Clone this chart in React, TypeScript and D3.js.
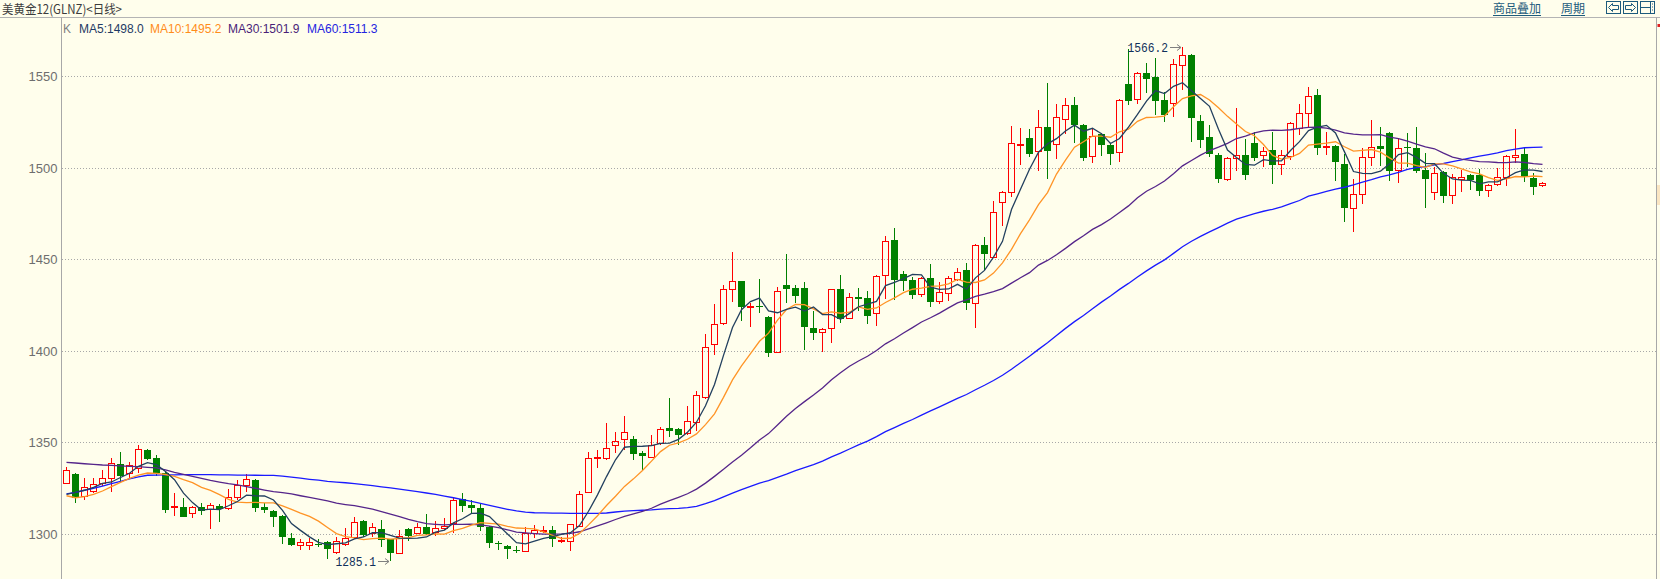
import React from 'react';
import * as d3 from 'd3';

const WIDTH = 1660;
const HEIGHT = 579;

const title = '美黄金12(GLNZ)<日线>';
const links = ['商品叠加', '周期'];
const yTicks = [1300, 1350, 1400, 1450, 1500, 1550];

const opens = [
  1327.5, 1332.6, 1320.5, 1323.1, 1327.5, 1330.6, 1338.1, 1333.0, 1335.7, 1345.7,
  1341.3, 1333.0, 1314.5, 1314.4, 1311.1, 1314.4, 1313.3, 1315.1, 1313.8, 1320.2,
  1326.4, 1329.3, 1314.4, 1312.4, 1309.6, 1297.8, 1293.8, 1293.8, 1294.3, 1295.2,
  1289.8, 1294.1, 1298.0, 1307.1, 1300.5, 1302.3, 1296.9, 1289.6, 1302.3, 1300.5,
  1303.4, 1301.1, 1302.9, 1306.0, 1318.7, 1315.5, 1313.8, 1303.8, 1294.9, 1293.2,
  1290.9, 1290.7, 1300.5, 1301.7, 1301.9, 1296.2, 1296.1, 1304.3, 1322.9, 1341.3,
  1341.1, 1348.4, 1351.5, 1351.5, 1344.0, 1342.1, 1349.4, 1357.6, 1357.0, 1354.8,
  1361.2, 1374.9, 1403.5, 1415.0, 1433.6, 1437.9, 1423.9, 1424.4, 1418.3, 1399.5,
  1435.7, 1434.1, 1434.1, 1412.4, 1410.1, 1412.2, 1433.6, 1418.1, 1429.2, 1428.6,
  1420.4, 1441.4, 1460.5, 1441.9, 1438.7, 1431.0, 1439.6, 1427.4, 1431.7, 1439.0,
  1444.1, 1425.9, 1457.8, 1451.4, 1481.1, 1486.6, 1512.6, 1516.1, 1509.4, 1522.2,
  1512.8, 1526.5, 1534.2, 1523.4, 1506.5, 1518.5, 1512.5, 1508.8, 1545.8, 1537.5,
  1551.7, 1549.5, 1537.1, 1535.3, 1556.2, 1561.7, 1525.8, 1516.7, 1507.0, 1493.7,
  1505.2, 1506.8, 1513.4, 1506.8, 1509.7, 1502.1, 1506.5, 1521.6, 1529.8, 1539.8,
  1511.2, 1511.9, 1502.1, 1477.8, 1485.5, 1505.7, 1511.9, 1518.9, 1498.8, 1511.2,
  1510.7, 1498.8, 1486.9, 1497.9, 1485.1, 1494.1, 1496.1, 1496.1, 1487.9, 1491.2,
  1495.2, 1506.1, 1507.6, 1494.3, 1490.4,
];

const highs = [
  1336.6, 1333.0, 1330.6, 1330.6, 1334.8, 1341.2, 1344.8, 1339.2, 1348.5, 1346.3,
  1343.0, 1333.5, 1322.0, 1319.3, 1315.0, 1316.9, 1316.9, 1316.0, 1324.2, 1329.3,
  1332.4, 1329.6, 1316.9, 1313.0, 1310.0, 1300.2, 1296.9, 1297.5, 1296.9, 1296.0,
  1298.3, 1302.9, 1308.9, 1307.5, 1306.0, 1307.4, 1297.3, 1302.0, 1303.0, 1306.0,
  1310.7, 1307.1, 1308.4, 1319.8, 1322.2, 1318.6, 1316.2, 1304.2, 1295.8, 1293.5,
  1293.2, 1303.8, 1304.5, 1304.1, 1304.1, 1298.3, 1305.5, 1323.5, 1344.5, 1345.7,
  1360.4, 1355.4, 1364.4, 1353.4, 1345.0, 1353.9, 1358.5, 1374.3, 1357.5, 1369.9,
  1378.0, 1409.1, 1425.6, 1435.9, 1454.0, 1438.3, 1426.3, 1439.0, 1419.0, 1435.0,
  1452.9, 1435.9, 1437.8, 1421.5, 1412.5, 1434.0, 1441.4, 1431.7, 1434.1, 1432.8,
  1441.5, 1462.7, 1466.9, 1443.8, 1440.5, 1440.5, 1447.4, 1437.8, 1440.9, 1445.4,
  1448.1, 1458.5, 1462.4, 1481.9, 1487.3, 1522.9, 1521.6, 1521.1, 1531.6, 1546.6,
  1534.9, 1538.0, 1538.6, 1524.0, 1521.6, 1519.0, 1513.0, 1537.5, 1564.8, 1552.5,
  1557.1, 1559.9, 1541.6, 1559.3, 1566.2, 1562.0, 1528.9, 1523.4, 1508.0, 1506.0,
  1532.5, 1516.0, 1519.8, 1511.6, 1519.8, 1509.7, 1525.0, 1534.9, 1544.0, 1542.9,
  1519.8, 1512.3, 1507.6, 1493.7, 1510.7, 1526.2, 1522.1, 1519.5, 1516.1, 1518.9,
  1522.1, 1508.0, 1500.3, 1498.3, 1496.6, 1498.8, 1496.5, 1499.2, 1491.0, 1499.7,
  1507.0, 1521.0, 1511.6, 1497.0, 1492.0,
];

const lows = [
  1327.0, 1316.9, 1318.5, 1322.0, 1326.0, 1322.9, 1327.5, 1330.0, 1333.0, 1340.0,
  1331.5, 1311.4, 1309.6, 1309.0, 1308.3, 1310.2, 1302.7, 1306.5, 1313.0, 1318.4,
  1322.9, 1312.0, 1311.4, 1303.8, 1294.1, 1293.0, 1291.0, 1291.0, 1292.5, 1286.0,
  1289.0, 1293.0, 1297.0, 1298.0, 1298.3, 1292.9, 1285.1, 1289.0, 1296.1, 1300.0,
  1299.0, 1298.7, 1302.0, 1300.5, 1312.0, 1311.0, 1301.6, 1291.9, 1291.0, 1286.3,
  1289.2, 1290.2, 1297.4, 1300.2, 1292.8, 1295.0, 1290.7, 1303.8, 1322.4, 1336.0,
  1340.5, 1343.9, 1345.9, 1340.2, 1334.8, 1341.5, 1348.5, 1353.0, 1348.2, 1353.9,
  1356.3, 1373.4, 1397.8, 1414.0, 1426.8, 1416.4, 1412.8, 1420.4, 1396.4, 1398.5,
  1426.3, 1425.9, 1400.4, 1405.9, 1399.5, 1404.4, 1415.3, 1417.2, 1421.9, 1414.6,
  1413.5, 1428.1, 1427.7, 1432.8, 1428.1, 1429.5, 1424.1, 1425.6, 1427.4, 1438.0,
  1422.3, 1412.2, 1444.1, 1450.5, 1468.4, 1484.2, 1501.5, 1506.1, 1498.4, 1493.9,
  1504.6, 1518.5, 1513.8, 1503.9, 1502.8, 1506.5, 1501.5, 1503.4, 1534.4, 1534.9,
  1541.1, 1528.9, 1525.2, 1528.0, 1542.6, 1514.3, 1510.7, 1505.7, 1491.9, 1493.0,
  1498.0, 1493.3, 1503.6, 1500.6, 1491.2, 1496.1, 1504.3, 1517.9, 1522.1, 1507.0,
  1507.0, 1493.0, 1470.6, 1465.1, 1480.2, 1501.0, 1501.0, 1493.0, 1491.9, 1500.3,
  1497.0, 1477.9, 1482.4, 1480.9, 1480.2, 1487.0, 1487.9, 1484.6, 1483.9, 1490.1,
  1490.1, 1502.8, 1492.4, 1485.1, 1489.3,
];

const closes = [
  1334.8, 1319.3, 1325.7, 1327.1, 1330.6, 1338.4, 1331.5, 1337.3, 1346.1, 1340.6,
  1333.0, 1312.9, 1314.9, 1309.3, 1314.7, 1312.5, 1315.5, 1313.6, 1319.8, 1326.4,
  1329.7, 1314.0, 1312.9, 1308.9, 1298.0, 1293.8, 1295.2, 1295.2, 1294.0, 1291.8,
  1296.1, 1297.4, 1306.2, 1299.2, 1303.4, 1296.5, 1289.6, 1298.9, 1298.7, 1303.8,
  1299.8, 1302.9, 1304.3, 1318.4, 1315.3, 1314.2, 1303.8, 1294.7, 1294.5, 1291.8,
  1290.6, 1300.5, 1301.9, 1302.0, 1296.9, 1296.6, 1305.0, 1321.4, 1341.1, 1341.8,
  1346.6, 1350.9, 1355.7, 1343.3, 1342.3, 1348.2, 1357.0, 1356.3, 1353.9, 1361.8,
  1375.6, 1402.0, 1414.4, 1433.6, 1437.9, 1424.1, 1424.3, 1424.0, 1398.6, 1432.8,
  1433.6, 1430.1, 1413.2, 1409.9, 1411.9, 1433.6, 1417.2, 1429.5, 1428.1, 1419.2,
  1440.9, 1460.2, 1438.7, 1438.3, 1430.5, 1439.6, 1426.8, 1432.3, 1439.6, 1443.2,
  1426.3, 1457.8, 1452.7, 1475.7, 1486.6, 1513.4, 1513.0, 1507.6, 1522.2, 1509.4,
  1527.6, 1534.2, 1523.4, 1505.6, 1517.4, 1512.5, 1507.6, 1537.1, 1536.7, 1552.0,
  1548.8, 1536.7, 1528.9, 1556.6, 1561.7, 1527.1, 1515.2, 1507.6, 1493.7, 1505.2,
  1506.8, 1495.9, 1505.6, 1509.0, 1501.7, 1506.8, 1524.3, 1529.8, 1539.3, 1511.0,
  1511.8, 1503.4, 1478.2, 1485.5, 1505.7, 1511.2, 1510.1, 1498.4, 1511.0, 1510.7,
  1498.4, 1493.7, 1497.4, 1484.8, 1495.2, 1495.2, 1493.3, 1487.5, 1490.4, 1495.2,
  1506.4, 1507.2, 1495.2, 1489.7, 1491.5,
];

// Moving-average values for the first candles, whose
// windows reach back before the visible data.
const ma5Head = [1321.5, 1322.6, 1323.7, 1325.3];
const ma10Head = [1320.7, 1319.6, 1320.2, 1321.5, 1323.3, 1325.7, 1328.0, 1330.2, 1332.0];
const ma30Head = [
  1339.0, 1338.6, 1338.2, 1337.9, 1337.5, 1337.3, 1337.0, 1336.8, 1336.6, 1336.2,
  1335.9, 1334.8, 1333.5, 1332.4, 1331.3, 1330.2, 1329.1, 1328.2, 1327.3, 1326.6,
  1325.7, 1324.8, 1323.8, 1322.9, 1322.4, 1321.7, 1320.7, 1319.8, 1318.9,
];
const ma60Head = [
  1321.7, 1322.6, 1323.7, 1324.8, 1326.0, 1327.3, 1328.6, 1329.9, 1331.0, 1331.9,
  1332.0, 1332.1, 1332.1, 1332.2, 1332.2, 1332.2, 1332.2, 1332.1, 1332.1, 1332.0,
  1332.0, 1331.9, 1331.8, 1331.8, 1331.4, 1330.9, 1330.3, 1329.7, 1329.2, 1328.6,
  1328.2, 1327.8, 1327.3, 1326.8, 1326.2, 1325.6, 1325.0, 1324.3, 1323.6, 1322.9,
  1322.2, 1321.4, 1320.5, 1319.6, 1318.6, 1317.6, 1316.5, 1315.4, 1314.3, 1313.3,
  1312.4, 1311.7, 1311.4, 1311.3, 1311.2, 1311.2, 1311.1, 1311.1, 1311.1,
];

const maPeriods = [5, 10, 30, 60];
const maHeads = [ma5Head, ma10Head, ma30Head, ma60Head];
const maLineColors = ['#23405f', '#ff9426', '#55258a', '#1a1aff'];
const maTextColors = ['#1e3a64', '#ff8c1a', '#4a1f78', '#2424e0'];

const BG = '#fffeec';
const UP = '#ff0000';
const DOWN = '#008000';
const LINK = '#1d5b7c';

function movingAverage(values: number[], n: number, head: number[]) {
  return values.map((_, i) =>
    i < n - 1 ? head[i] : (d3.mean(values.slice(i - n + 1, i + 1)) as number)
  );
}

export default function App() {
  const n = closes.length;
  const x = d3.scaleBand<number>().domain(d3.range(n)).range([62, 62 + 9 * n]);
  const y = d3.scaleLinear().domain([1300, 1550]).range([533.6, 76.4]);
  const cx = (i: number) => Math.floor((x(i) as number) + x.bandwidth() / 2) + 0.5;

  const mas = maPeriods.map((p, k) => movingAverage(closes, p, maHeads[k]));
  const line = d3
    .line<number>()
    .x((_, i) => cx(i))
    .y((v) => y(v));

  const maxIdx = d3.maxIndex(highs);
  const minIdx = d3.minIndex(lows);

  const legendX = [79, 150, 228, 307];

  const candles = closes.map((c, i) => {
    const o = opens[i];
    const h = highs[i];
    const l = lows[i];
    const xc = cx(i);
    const up = c >= o;
    const top = Math.round(y(Math.max(o, c)));
    const bot = Math.round(y(Math.min(o, c)));
    const yh = Math.round(y(h));
    const yl = Math.round(y(l));
    if (up) {
      const hgt = Math.max(bot - top, 1);
      return (
        <g key={i}>
          {yh < top && <line x1={xc} x2={xc} y1={yh} y2={top} stroke={UP} />}
          {yl > top + hgt && <line x1={xc} x2={xc} y1={top + hgt} y2={yl} stroke={UP} />}
          <rect x={xc - 3} y={top + 0.5} width={6} height={hgt} fill="none" stroke={UP} />
        </g>
      );
    }
    return (
      <g key={i}>
        <line x1={xc} x2={xc} y1={yh} y2={yl} stroke={DOWN} />
        <rect x={xc - 3.5} y={top} width={7} height={Math.max(bot - top, 1)} fill={DOWN} />
      </g>
    );
  });

  const annot = (idx: number, value: number, label: string) => {
    const xc = cx(idx);
    const yy = Math.round(y(value)) + 0.5;
    return (
      <g key={label}>
        <text
          x={xc - 14.5}
          y={yy + 4.5}
          textAnchor="end"
          fontFamily="'Liberation Mono', 'DejaVu Sans Mono', monospace"
          fontSize={13.5}
          fill="#10305a"
          textLength={40.5}
          lengthAdjust="spacingAndGlyphs"
        >
          {label}
        </text>
        <line x1={xc - 12.5} x2={xc - 1.5} y1={yy} y2={yy} stroke="#808080" />
        <path d={`M${xc - 5.5},${yy - 3}L${xc - 1.5},${yy}L${xc - 5.5},${yy + 3}`} fill="none" stroke="#808080" />
      </g>
    );
  };

  return (
    <svg
      width={WIDTH}
      height={HEIGHT}
      style={{ position: 'absolute', left: 0, top: 0, display: 'block', background: BG }}
    >
      <rect x={0} y={0} width={WIDTH} height={HEIGHT} fill={BG} />
      {/* header */}
      <text
        x={2}
        y={14}
        fontFamily="'Noto Sans CJK SC', sans-serif"
        fontSize={12.5}
        fill="#3c3c3c"
        textLength={120}
        lengthAdjust="spacingAndGlyphs"
      >
        {title}
      </text>
      <text x={1493} y={13} fontFamily="'Noto Sans CJK SC', sans-serif" fontSize={12} fill={LINK}>
        {links[0]}
      </text>
      <line x1={1493} x2={1541} y1={15.5} y2={15.5} stroke={LINK} />
      <text x={1561} y={13} fontFamily="'Noto Sans CJK SC', sans-serif" fontSize={12} fill={LINK}>
        {links[1]}
      </text>
      <line x1={1561} x2={1585} y1={15.5} y2={15.5} stroke={LINK} />
      <g stroke={LINK} fill="none">
        <rect x={1606.5} y={1.5} width={14} height={12} />
        <path d="M1608.5,7.5L1612.5,3.5V5.5H1618.5V9.5H1612.5V11.5Z" />
        <rect x={1623.5} y={1.5} width={14} height={12} />
        <path d="M1635.5,7.5L1631.5,3.5V5.5H1625.5V9.5H1631.5V11.5Z" />
        <rect x={1640.5} y={1.5} width={14} height={12} />
        <path d="M1650.5,1.5V13.5M1640.5,7.5H1650.5" />
        <path d="M1652.5,3.5v1M1652.5,6.5v1M1652.5,9.5v1" />
      </g>
      <line x1={0} x2={WIDTH} y1={17.5} y2={17.5} stroke="#b4b4b4" />
      <line x1={61.5} x2={61.5} y1={17.5} y2={HEIGHT} stroke="#a8a8a8" />
      <line x1={1656.5} x2={1656.5} y1={17.5} y2={HEIGHT} stroke="#a8a8a8" />
      <rect x={1657.5} y={24} width={3} height={3} fill="#e02020" />
      <rect x={1657} y={185} width={3} height={20} fill="#fbe6c2" />

      {/* legend */}
      <g fontFamily="'Liberation Sans', Arial, sans-serif" fontSize={12}>
        <text x={63} y={32.5} fill="#808080">K</text>
        {maPeriods.map((p, k) => (
          <text key={p} x={legendX[k]} y={32.5} fill={maTextColors[k]}>
            {`MA${p}:${mas[k][n - 1].toFixed(1)}`}
          </text>
        ))}
      </g>

      {/* y axis grid and labels */}
      {yTicks.map((t) => {
        const yy = Math.round(y(t)) + 0.5;
        return (
          <g key={t}>
            <line x1={62} x2={1656} y1={yy} y2={yy} stroke="#a8a8a8" strokeDasharray="1,2" />
            <text
              x={57.5}
              y={yy + 4.8}
              textAnchor="end"
              fontFamily="'Liberation Sans', Arial, sans-serif"
              fontSize={13}
              fill="#6e6e6e"
            >
              {t}
            </text>
          </g>
        );
      })}

      {/* candles */}
      <g shapeRendering="crispEdges">{candles}</g>

      {/* moving averages */}
      {[3, 2, 1, 0].map((k) => (
        <path key={k} d={line(mas[k]) as string} fill="none" stroke={maLineColors[k]} strokeWidth={1.3} />
      ))}

      {annot(maxIdx, highs[maxIdx], highs[maxIdx].toFixed(1))}
      {annot(minIdx, lows[minIdx], lows[minIdx].toFixed(1))}
    </svg>
  );
}
